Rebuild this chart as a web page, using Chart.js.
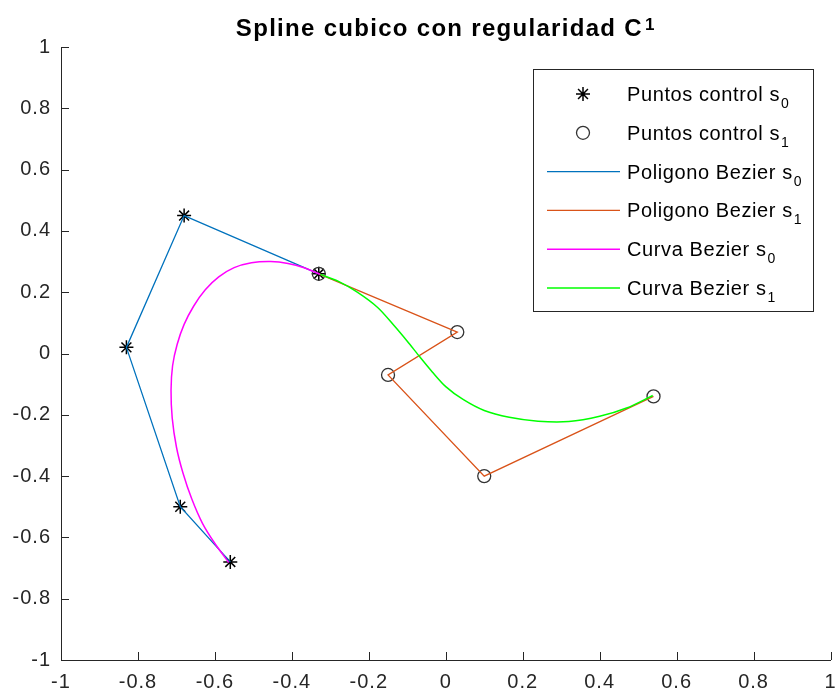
<!DOCTYPE html>
<html>
<head>
<meta charset="utf-8">
<script src="https://cdn.jsdelivr.net/npm/chart.js@4.4.1/dist/chart.umd.min.js"></script>
<style>
  html, body { margin: 0; padding: 0; background: #fff; }
</style>
</head>
<body>
<canvas id="myChart" width="839" height="700"></canvas>
<script>
const fuente = "'Liberation Sans', Arial, Helvetica, sans-serif";

// puntos de control
const s0x = [-0.56, -0.69, -0.83, -0.68, -0.33];
const s0y = [-0.68, -0.50, 0.02, 0.45, 0.26];
const s1x = [-0.33, 0.03, -0.15, 0.10, 0.54];
const s1y = [0.26, 0.07, -0.07, -0.40, -0.14];

// curvas
const curva0x = [-0.564, -0.600, -0.632, -0.660, -0.683, -0.700, -0.711, -0.714, -0.710, -0.698, -0.680, -0.655, -0.625, -0.590, -0.550, -0.505, -0.455, -0.410, -0.368, -0.326];
const curva0y = [-0.682, -0.620, -0.555, -0.475, -0.390, -0.305, -0.210, -0.120, -0.040, 0.030, 0.095, 0.155, 0.208, 0.250, 0.280, 0.296, 0.300, 0.294, 0.280, 0.258];
const curva1x = [-0.326, -0.280, -0.230, -0.177, -0.135, -0.100, -0.068, -0.035, 0.000, 0.045, 0.100, 0.165, 0.240, 0.320, 0.400, 0.470, 0.538];
const curva1y = [0.258, 0.236, 0.200, 0.150, 0.092, 0.040, -0.010, -0.060, -0.108, -0.150, -0.186, -0.208, -0.221, -0.222, -0.205, -0.178, -0.137];

// marcas de los ejes
const marcas = [-1, -0.8, -0.6, -0.4, -0.2, 0, 0.2, 0.4, 0.6, 0.8, 1];

const titulo = 'Spline cubico con regularidad C';
const tituloSup = '1';

function pares(xs, ys) {
  return xs.map((x, i) => ({ x: x, y: ys[i] }));
}
function fmt(v) {
  return String(Math.round(v * 10) / 10);
}
const subs = { '₀': '0', '₁': '1' };

const espaciado = {
  id: 'espaciado',
  beforeDraw(chart) {
    chart.ctx.letterSpacing = '1px';
  }
};

// ticks hacia dentro, estilo matlab
const ticksDentro = {
  id: 'ticksDentro',
  afterDatasetsDraw(chart) {
    const { ctx, scales: { x, y }, chartArea: a } = chart;
    ctx.save();
    ctx.strokeStyle = '#262626';
    ctx.lineWidth = 1;
    ctx.beginPath();
    x.ticks.forEach(t => {
      const px = Math.round(x.getPixelForValue(t.value)) + 0.5;
      ctx.moveTo(px, a.bottom);
      ctx.lineTo(px, a.bottom - 8);
    });
    y.ticks.forEach(t => {
      const py = Math.round(y.getPixelForValue(t.value)) + 0.5;
      ctx.moveTo(a.left, py);
      ctx.lineTo(a.left + 8, py);
    });
    ctx.stroke();
    ctx.restore();
  }
};

const tituloPlugin = {
  id: 'tituloPlugin',
  afterDraw(chart) {
    const c = chart.ctx;
    const a = chart.chartArea;
    c.save();
    c.fillStyle = '#000';
    c.textBaseline = 'alphabetic';
    c.textAlign = 'left';
    c.letterSpacing = '1.3px';
    c.font = 'bold 24px ' + fuente;
    const w1 = c.measureText(titulo).width;
    c.font = 'bold 17px ' + fuente;
    const w2 = c.measureText(tituloSup).width;
    const x0 = (a.left + a.right) / 2 - (w1 + w2 + 2) / 2;
    c.font = 'bold 24px ' + fuente;
    c.fillText(titulo, x0, 36);
    c.font = 'bold 17px ' + fuente;
    c.fillText(tituloSup, x0 + w1 + 2, 30);
    c.restore();
  }
};

const leyenda = {
  id: 'leyenda',
  afterDraw(chart) {
    const c = chart.ctx;
    const bx = 533, by = 69, bw = 280, bh = 242;
    c.save();
    c.fillStyle = '#fff';
    c.fillRect(bx, by, bw, bh);
    c.strokeStyle = '#262626';
    c.lineWidth = 1;
    c.strokeRect(bx + 0.5, by + 0.5, bw, bh);
    chart.data.datasets.forEach((ds, i) => {
      const yy = 94 + i * 38.8;
      c.save();
      if (ds.showLine) {
        c.strokeStyle = ds.borderColor;
        c.lineWidth = ds.borderWidth;
        c.beginPath();
        c.moveTo(547, yy);
        c.lineTo(620, yy);
        c.stroke();
      } else {
        c.strokeStyle = ds.pointBorderColor;
        c.fillStyle = ds.pointBackgroundColor;
        c.lineWidth = ds.pointBorderWidth;
        Chart.helpers.drawPoint(c, {
          pointStyle: ds.pointStyle,
          radius: ds.pointRadius,
          borderWidth: ds.pointBorderWidth,
          rotation: 0
        }, 583, yy);
      }
      c.restore();
      const base = ds.label.slice(0, -1);
      const sub = subs[ds.label.slice(-1)];
      c.fillStyle = '#000';
      c.textAlign = 'left';
      c.textBaseline = 'alphabetic';
      c.letterSpacing = '0.6px';
      c.font = '20px ' + fuente;
      c.fillText(base, 627, yy + 7);
      const wb = c.measureText(base).width;
      c.font = '14px ' + fuente;
      c.fillText(sub, 627 + wb + 1, yy + 14);
    });
    c.restore();
  }
};

const ctx = document.getElementById('myChart').getContext('2d');
const myChart = new Chart(ctx, {
  type: 'scatter',
  data: {
    datasets: [
      {
        label: 'Puntos control s₀',
        data: pares(s0x, s0y),
        showLine: false,
        pointStyle: 'star',
        pointRadius: 7,
        pointBorderWidth: 1.5,
        pointBorderColor: '#000',
        pointBackgroundColor: '#000',
        borderColor: '#000',
        order: 6,
      },
      {
        label: 'Puntos control s₁',
        data: pares(s1x, s1y),
        showLine: false,
        pointStyle: 'circle',
        pointRadius: 6.5,
        pointBorderWidth: 1.3,
        pointBorderColor: '#333',
        pointBackgroundColor: 'rgba(0,0,0,0)',
        borderColor: '#333',
        order: 5,
      },
      {
        label: 'Poligono Bezier s₀',
        data: pares(s0x, s0y),
        showLine: true,
        pointRadius: 0,
        borderColor: '#0072BD',
        borderWidth: 1.3,
        order: 4,
      },
      {
        label: 'Poligono Bezier s₁',
        data: pares(s1x, s1y),
        showLine: true,
        pointRadius: 0,
        borderColor: '#D95319',
        borderWidth: 1.3,
        order: 3,
      },
      {
        label: 'Curva Bezier s₀',
        data: pares(curva0x, curva0y),
        showLine: true,
        pointRadius: 0,
        borderColor: '#FF00FF',
        borderWidth: 1.5,
        tension: 0.3,
        order: 2,
      },
      {
        label: 'Curva Bezier s₁',
        data: pares(curva1x, curva1y),
        showLine: true,
        pointRadius: 0,
        borderColor: '#00FF00',
        borderWidth: 1.5,
        tension: 0.3,
        order: 1,
      },
    ],
  },
  plugins: [espaciado, ticksDentro, tituloPlugin, leyenda],
  options: {
    responsive: false,
    animation: false,
    layout: { padding: { top: 47, right: 3, left: 0, bottom: 0 } },
    plugins: {
      legend: { display: false },
      tooltip: { enabled: false },
    },
    scales: {
      x: {
        type: 'linear',
        min: -1,
        max: 1,
        grid: { display: false, drawTicks: false },
        border: { display: true, color: '#262626', width: 1 },
        ticks: {
          padding: 10,
          color: '#262626',
          font: { family: fuente, size: 20 },
          maxRotation: 0,
          autoSkip: false,
          callback: v => fmt(v),
        },
        afterBuildTicks: s => { s.ticks = marcas.map(v => ({ value: v })); },
        afterFit: s => { s.height = 40; s.paddingLeft = 0; s.paddingRight = 0; },
      },
      y: {
        type: 'linear',
        min: -1,
        max: 1,
        grid: { display: false, drawTicks: false },
        border: { display: true, color: '#262626', width: 1 },
        ticks: {
          padding: 10,
          color: '#262626',
          font: { family: fuente, size: 20 },
          autoSkip: false,
          callback: v => fmt(v),
        },
        afterBuildTicks: s => { s.ticks = marcas.map(v => ({ value: v })); },
        afterFit: s => { s.width = 61; s.paddingTop = 0; s.paddingBottom = 0; },
      },
    },
  },
});
</script>
</body>
</html>
